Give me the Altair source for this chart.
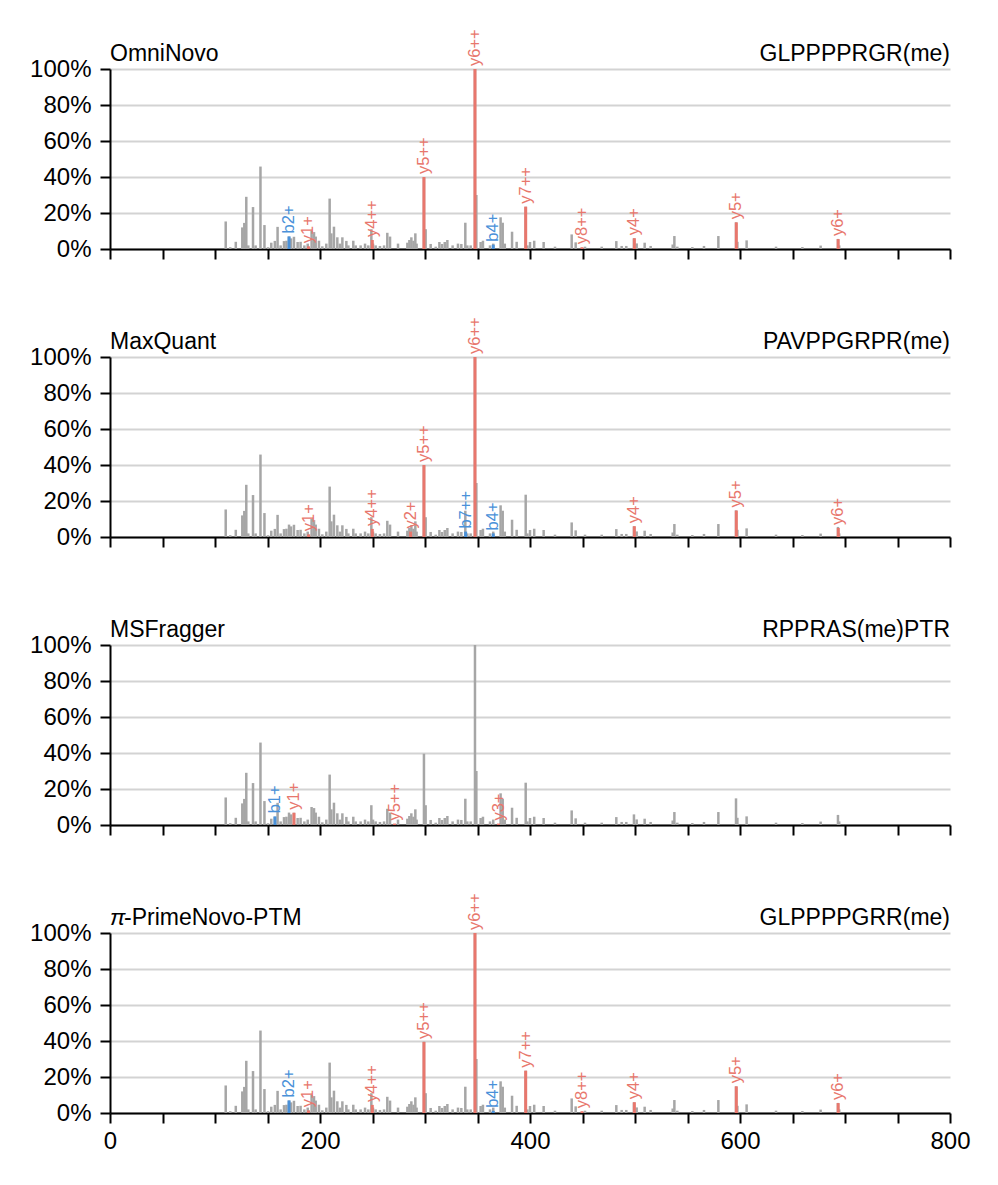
import altair as alt
import pandas as pd

FONT = "Liberation Sans"

# ---- experimental spectrum (m/z, relative intensity %) ----
GRAY_MZ = [110.2, 114.5, 119.8, 126.0, 127.9, 129.8, 131.7, 136.2, 138.7, 143.3,
           147.1, 150.5, 153.6, 157.0, 159.6, 162.5, 165.7, 168.0, 170.5, 172.4,
           175.2, 178.7, 181.5, 185.1, 188.3, 192.0, 194.3, 195.9, 199.0, 202.2,
           206.0, 209.2, 210.8, 213.3, 216.5, 219.0, 221.3, 225.1, 227.0, 231.7,
           234.0, 238.7, 242.9, 246.0, 248.9, 250.5, 253.0, 257.1, 261.0, 264.1,
           266.7, 274.3, 283.2, 285.1, 287.0, 289.0, 290.8, 292.0, 299.0, 300.6,
           305.4, 310.2, 313.7, 316.2, 318.8, 321.3, 326.3, 331.4, 334.6, 338.4,
           340.3, 343.5, 347.6, 348.9, 353.0, 355.2, 361.9, 365.0, 372.0, 374.0,
           376.0, 382.9, 387.3, 395.9, 397.5, 400.0, 404.0, 413.0, 423.8, 439.7,
           443.5, 452.4, 468.3, 482.2, 487.3, 491.7, 499.0, 501.6, 509.2, 514.9,
           535.9, 537.5, 540.3, 554.6, 565.7, 579.4, 596.2, 597.5, 606.3, 634.3,
           659.4, 676.8, 693.3, 694.5]
GRAY_INT = [15.3, 1.0, 4.0, 12.0, 14.5, 29.0, 2.0, 23.3, 2.0, 45.8,
            13.3, 1.0, 3.5, 4.5, 12.3, 2.0, 4.4, 4.6, 6.9, 5.9,
            6.8, 3.9, 4.0, 2.0, 3.0, 10.0, 9.4, 6.9, 4.6, 1.5,
            3.0, 28.0, 8.7, 12.4, 6.5, 3.0, 6.5, 4.5, 2.0, 4.6,
            2.0, 2.0, 3.0, 2.0, 11.0, 3.0, 2.0, 1.7, 2.0, 9.0,
            6.9, 3.0, 3.5, 5.0, 6.5, 4.6, 8.7, 3.0, 39.6, 11.0,
            2.8, 1.3, 3.9, 2.8, 3.9, 5.0, 2.0, 3.0, 2.8, 14.6,
            2.0, 2.0, 100.0, 30.0, 3.9, 4.6, 2.0, 3.0, 17.6, 14.6,
            3.0, 9.6, 4.0, 23.5, 2.0, 3.9, 4.6, 3.9, 1.3, 8.1,
            3.7, 1.3, 1.3, 4.4, 1.7, 1.7, 5.9, 3.1, 3.5, 1.7,
            2.5, 7.2, 1.3, 1.1, 1.7, 7.2, 14.8, 4.0, 4.8, 1.3,
            1.1, 1.9, 5.6, 2.0]

# ---- panels ----
PANEL_NAMES = ["OmniNovo", "MaxQuant", "MSFragger", "π-PrimeNovo-PTM"]
PANEL_PEPTIDES = ["GLPPPPRGR(me)", "PAVPPGRPR(me)", "RPPRAS(me)PTR", "GLPPPPGRR(me)"]

# ---- annotated fragment ions per panel ----
ANN_LABELS = [
    ["b2+", "y1+", "y4++", "y5++", "y6++", "b4+", "y7++", "y8++", "y4+", "y5+", "y6+"],
    ["y1+", "y4++", "y2+", "y5++", "b7++", "y6++", "b4+", "y4+", "y5+", "y6+"],
    ["b1+", "y1+", "y5++", "y3+"],
    ["b2+", "y1+", "y4++", "y5++", "y6++", "b4+", "y7++", "y8++", "y4+", "y5+", "y6+"],
]
ANN_MZ = [
    [170.5, 189.0, 249.8, 299.0, 347.6, 365.0, 395.9, 449.5, 499.4, 596.5, 693.5],
    [189.2, 249.8, 286.3, 299.0, 338.7, 347.6, 365.0, 499.4, 596.5, 693.6],
    [157.1, 175.2, 271.0, 370.0],
    [170.5, 189.0, 249.8, 299.0, 347.6, 365.0, 395.9, 449.5, 499.4, 596.5, 693.5],
]
ANN_INT = [
    [7.0, 1.5, 5.0, 40.0, 100.0, 2.4, 23.5, 1.0, 6.0, 14.8, 5.5],
    [1.5, 4.5, 3.0, 40.0, 3.0, 100.0, 2.0, 6.0, 14.7, 5.0],
    [4.8, 6.8, 0.8, 0.8],
    [7.0, 1.5, 4.5, 39.5, 100.0, 1.2, 23.5, 1.0, 6.0, 14.8, 5.5],
]

GRAY = "#a6a6a6"
RED = "#e8776d"
BLUE = "#4a91d9"

spec_df = pd.DataFrame({"mz": GRAY_MZ, "intensity": GRAY_INT})
spec_df["base"] = 0.0

x_scale = alt.Scale(domain=[0, 800], nice=False, zero=False)
y_scale = alt.Scale(domain=[0, 100], nice=False)
ion_scale = alt.Scale(domain=["b", "y"], range=[BLUE, RED])


def make_panel(i):
    last = i == len(PANEL_NAMES) - 1
    x_axis = alt.Axis(
        values=list(range(0, 801, 50)),
        labels=last,
        labelExpr="datum.value % 200 === 0 ? datum.label : ''",
        labelOverlap=False,
        labelFlush=False,
        title=None,
        grid=False,
        tickSize=10,
        tickWidth=2,
        tickColor="black",
        domainColor="black",
        domainWidth=2,
        labelPadding=6,
    )
    y_axis = alt.Axis(
        values=[0, 20, 40, 60, 80, 100],
        labelExpr="datum.value + '%'",
        title=None,
        grid=True,
        gridColor="#d3d3d3",
        gridWidth=2,
        tickSize=10,
        tickWidth=2,
        tickColor="black",
        domainColor="black",
        domainWidth=2,
        labelPadding=9,
    )
    xenc = alt.X("mz:Q", scale=x_scale, axis=x_axis)
    yenc = alt.Y("intensity:Q", scale=y_scale, axis=y_axis)

    gray = alt.Chart(spec_df).mark_rule(color=GRAY, strokeWidth=2.5).encode(
        x=xenc, y=yenc, y2="base:Q"
    )

    ann = pd.DataFrame({
        "mz": ANN_MZ[i],
        "intensity": ANN_INT[i],
        "label": ANN_LABELS[i],
    })
    ann["ion"] = ann["label"].str[0]
    ann["base"] = 0.0
    color = alt.Color("ion:N", scale=ion_scale, legend=None)

    ann_rules = alt.Chart(ann).mark_rule(strokeWidth=3).encode(
        x=xenc, y=yenc, y2="base:Q", color=color
    )
    ann_text = alt.Chart(ann).mark_text(
        angle=270, align="left", baseline="middle", dx=3, fontSize=16.5, font=FONT
    ).encode(x=xenc, y=yenc, text="label:N", color=color)

    name = PANEL_NAMES[i]
    layers = [gray, ann_rules, ann_text]
    if name.startswith("π"):
        layers.append(
            alt.Chart(pd.DataFrame({"t": [name[0]]})).mark_text(
                align="left", baseline="alphabetic", fontSize=23, font=FONT,
                fontStyle="italic", color="black"
            ).encode(x=alt.value(0), y=alt.value(-8), text="t:N")
        )
        layers.append(
            alt.Chart(pd.DataFrame({"t": [name[1:]]})).mark_text(
                align="left", baseline="alphabetic", fontSize=23, font=FONT, color="black"
            ).encode(x=alt.value(14), y=alt.value(-8), text="t:N")
        )
    else:
        layers.append(
            alt.Chart(pd.DataFrame({"t": [name]})).mark_text(
                align="left", baseline="alphabetic", fontSize=23, font=FONT, color="black"
            ).encode(x=alt.value(0), y=alt.value(-8), text="t:N")
        )
    layers.append(
        alt.Chart(pd.DataFrame({"t": [PANEL_PEPTIDES[i]]})).mark_text(
            align="right", baseline="alphabetic", fontSize=23, font=FONT, color="black"
        ).encode(x=alt.value(840), y=alt.value(-8), text="t:N")
    )
    return alt.layer(*layers).properties(width=840, height=180)


chart = alt.vconcat(
    *[make_panel(i) for i in range(len(PANEL_NAMES))],
    spacing=108,
    bounds="flush",
).properties(
    padding={"left": 21, "top": 21, "right": 5, "bottom": 5}
).configure_view(stroke=None).configure_axis(
    labelFont=FONT, labelFontSize=24, labelColor="black"
)

chart.save("out.html", embed_options={"renderer": "svg", "actions": False})
